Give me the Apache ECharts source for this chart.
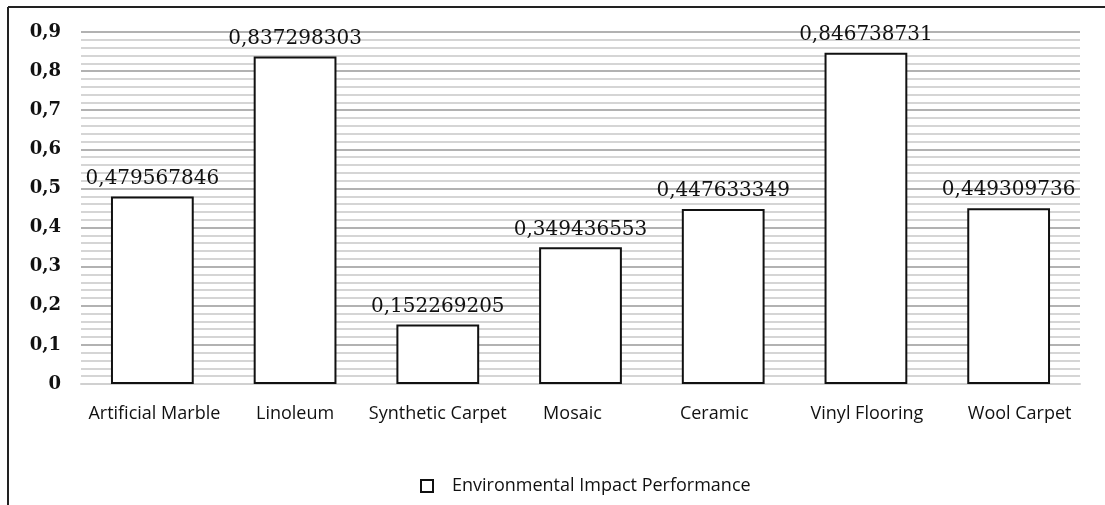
<!DOCTYPE html>
<html><head><meta charset="utf-8">
<script src="https://cdn.jsdelivr.net/npm/echarts@6/dist/echarts.min.js"></script>
<style>html,body{margin:0;padding:0;background:#fff}#c{width:1105px;height:505px}</style>
</head><body><div id="c"></div>
<script>
var categories = ['Artificial Marble','Linoleum','Synthetic Carpet','Mosaic','Ceramic','Vinyl Flooring','Wool Carpet'];
var values = [0.479567846, 0.837298303, 0.152269205, 0.349436553, 0.447633349, 0.846738731, 0.449309736];
var seriesName = 'Environmental Impact Performance';
var yTicks = [0, 0.1, 0.2, 0.3, 0.4, 0.5, 0.6, 0.7, 0.8, 0.9];

// label nudges (layout only)
var labelShift = [2, 0, 0, -8, -9, 1, 11];

function comma(v){ return String(v).replace('.', ','); }

var rich = {};
labelShift.forEach(function(s, i){
  rich['c' + i] = {
    fontFamily: 'Open Sans', fontSize: 18, color: '#111',
    padding: s >= 0 ? [0, 0, 0, 2 * s] : [0, -2 * s, 0, 0]
  };
});

var chart = echarts.init(document.getElementById('c'));
chart.setOption({
  animation: false,
  graphic: [
    {type:'line', shape:{x1:8,y1:7,x2:1105,y2:7}, style:{stroke:'#222',lineWidth:2}},
    {type:'line', shape:{x1:8,y1:7,x2:8,y2:505}, style:{stroke:'#222',lineWidth:2}}
  ],
  grid: {left: 81, right: 25, top: 32, bottom: 121},
  legend: {
    data: [seriesName], left: 415, top: 472,
    icon: 'rect', itemWidth: 12, itemHeight: 12, itemGap: 10,
    itemStyle: {color: '#fff', borderColor: '#111', borderWidth: 2},
    textStyle: {fontFamily: 'Open Sans', fontSize: 18, color: '#111', padding: [0,0,0,14]}
  },
  xAxis: {
    type: 'category', data: categories,
    axisLine: {show: true, lineStyle: {color: '#d0d0d0', width: 2}},
    axisTick: {show: false},
    axisLabel: {margin: 21, interval: 0, rich: rich,
      formatter: function(v, i){ return '{c' + i + '|' + v + '}'; }}
  },
  yAxis: {
    type: 'value', min: 0, max: 0.9, interval: 0.1,
    axisLine: {show: false}, axisTick: {show: false},
    axisLabel: {fontFamily: 'DejaVu Serif', fontSize: 18, fontWeight: 'bold', color: '#111', margin: 20,
      formatter: function(v){ var t = yTicks.filter(function(k){return Math.abs(k-v)<1e-9;}); return t.length ? comma(Math.round(v*10)/10) : ''; }},
    splitLine: {show: true, lineStyle: {color: '#999', width: 1.5}},
    minorTick: {show: false, splitNumber: 5},
    minorSplitLine: {show: true, lineStyle: {color: '#c8c8c8', width: 1.5}}
  },
  series: [{
    name: seriesName, type: 'bar', data: values, barWidth: '58%',
    itemStyle: {color: '#fff', borderColor: '#111', borderWidth: 2},
    label: {show: true, position: 'top', distance: 8, fontFamily: 'DejaVu Serif', fontSize: 20, color: '#111',
      formatter: function(p){ return comma(p.value); }}
  }]
});
</script></body></html>
